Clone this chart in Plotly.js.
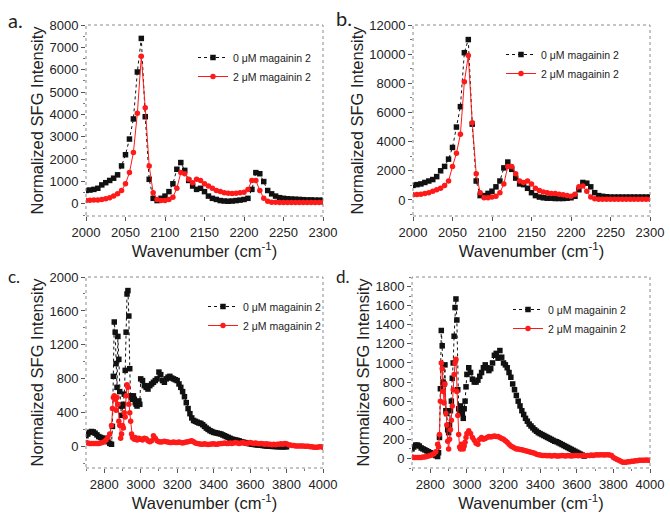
<!DOCTYPE html>
<html><head><meta charset="utf-8">
<script src="https://cdn.plot.ly/plotly-3.0.1.min.js"></script>
<style>html,body{margin:0;padding:0;background:#fff}#chart{width:670px;height:519px}</style>
</head><body><div id="chart"></div><script>
// ---- Data: panels a & b (2000-2300 cm-1) ----
const wnAB = [2000,2005,2010,2015,2020,2025,2030,2035,2040,2045,
  2050,2055,2060,2065,2070,2075,2080,2085,2090,2095,
  2100,2105,2110,2115,2120,2125,2130,2135,2140,2145,
  2150,2155,2160,2165,2170,2175,2180,2185,2190,2195,
  2200,2205,2210,2215,2220,2225,2230,2235,2240,2245,
  2250,2255,2260,2265,2270,2275,2280,2285,2290,2295,2300];
const aZero = [600,620,650,700,850,950,1050,1150,1300,1700,
  2200,2900,3800,5900,7400,3900,1100,250,150,250,
  350,550,900,1550,1850,1500,1050,800,650,700,
  550,350,250,200,150,130,120,130,150,170,
  200,250,650,1400,1350,1000,600,450,350,280,
  250,230,220,210,200,190,180,180,170,170,160];
const aTwo = [150,160,170,180,200,230,280,350,450,600,
  900,1400,2300,4050,6600,4300,1700,500,200,150,
  150,200,300,700,1400,1350,1100,950,1100,1050,
  900,800,700,600,550,500,480,470,480,500,
  520,650,1050,1050,600,250,120,80,70,60,
  60,60,60,60,60,60,60,60,60,60,60];
const bZero = [1000,1050,1100,1200,1300,1400,1600,2000,2300,2800,
  3600,5000,6400,10100,11000,5200,1300,300,300,450,
  600,900,1300,2200,2600,2100,1500,1100,1050,800,
  500,300,200,150,120,120,100,100,100,120,
  150,250,700,1200,1150,900,500,300,250,220,
  200,200,200,200,200,200,200,200,200,200,200];
const bTwo = [350,380,400,450,500,600,700,800,1000,1300,
  2300,3200,4500,8100,9900,5300,1800,500,150,150,
  200,250,500,1100,2300,2300,1800,1300,1200,1300,
  1100,800,650,550,500,450,450,400,350,300,
  250,400,900,950,600,200,80,50,50,50,
  50,50,50,50,50,50,50,50,50,50,50];

// ---- Data: panels c & d (2700-4000 cm-1) ----
const wnCD = [2700,2710,2720,2730,2740,2750,2760,2770,2780,2790,2800,2810,2820,2830,2840,
  2845,2850,2855,2860,2865,2870,2875,2880,2885,2890,2895,2900,2905,2910,2915,2920,2925,2930,2935,2940,2945,2950,2955,2960,2965,2970,2975,2980,2985,2990,2995,
  3000,3010,3020,3030,3040,3050,3060,3070,3080,3090,
  3100,3110,3120,3130,3140,3150,3160,3170,3180,3190,
  3200,3210,3220,3230,3240,3250,3260,3270,3280,3290,
  3300,3310,3320,3330,3340,3350,3360,3370,3380,3390,
  3400,3410,3420,3430,3440,3450,3460,3470,3480,3490,
  3500,3510,3520,3530,3540,3550,3560,3570,3580,3590,
  3600,3610,3620,3630,3640,3650,3660,3670,3680,3690,
  3700,3710,3720,3730,3740,3750,3760,3770,3780,3790,
  3800,3810,3820,3830,3840,3850,3860,3870,3880,3890,
  3900,3910,3920,3930,3940,3950,3960,3970,3980,3990,4000];
const cZero = [130,150,170,180,175,160,140,120,110,100,100,90,60,40,30,
  240,830,1470,1350,980,700,1300,1030,650,480,370,480,500,620,900,1350,1800,1840,1540,920,600,580,560,600,560,520,500,480,520,540,500,
  800,780,720,700,680,720,740,760,780,800,
  880,850,780,760,800,820,830,810,800,790,
  780,740,700,650,590,520,450,390,340,310,
  300,290,280,275,260,240,220,205,190,180,
  170,165,160,155,150,140,130,120,110,100,
  90,85,80,75,70,60,55,50,45,40,
  35,30,28,25,22,20,18,15,12,10,
  8,6,5,4,3,2,1,0,0,0,
  0,null,null,null,null,null,null,null,null,null,
  null,null,null,null,null,null,null,null,null,null,null];
const cTwo = [50,45,40,40,40,40,40,40,45,50,60,80,110,150,250,
  450,580,600,560,430,580,500,300,250,100,150,250,220,400,350,600,730,700,500,400,300,150,110,100,90,110,90,80,90,100,95,
  90,80,100,95,70,60,70,130,100,70,
  60,55,60,65,60,55,50,50,55,50,
  50,55,50,45,50,55,60,65,70,60,
  45,40,35,30,30,35,30,28,30,32,
  35,30,30,35,40,40,45,40,40,45,
  40,45,50,45,40,45,50,45,40,45,
  50,45,40,45,40,35,40,35,30,35,
  30,30,25,30,25,30,30,35,30,40,
  35,25,20,15,15,10,10,10,10,10,
  5,5,5,0,0,-5,-5,-5,0,0,-5];
const dZero = [100,120,140,140,130,110,100,90,80,70,60,50,40,30,20,
  60,220,730,1340,1180,800,780,980,500,470,300,270,350,500,600,840,1000,1280,1580,1670,1450,720,520,480,550,500,470,420,520,600,750,
  880,950,900,830,800,800,820,860,900,950,
  980,950,920,940,1000,1080,1100,1050,1130,1060,
  1000,980,950,900,850,780,720,660,600,550,
  500,460,420,390,360,340,320,300,285,270,
  260,250,240,230,220,210,200,190,180,175,
  165,155,145,135,125,115,105,95,85,75,
  65,55,45,35,25,null,null,null,null,null,
  null,null,null,null,null,null,null,null,null,null,
  null,null,null,null,null,null,null,null,null,null,
  null,null,null,null,null,null,null,null,null,null,null];
const dTwo = [15,10,10,10,10,10,15,15,20,25,30,40,50,70,150,
  120,250,600,1000,940,700,580,780,470,350,180,100,200,300,400,550,720,880,1000,1040,700,450,250,120,100,150,120,100,130,170,220,
  260,290,260,220,190,160,150,200,220,200,
  210,220,230,225,230,235,230,230,220,210,
  200,185,170,150,130,120,110,100,100,95,
  90,85,80,75,70,65,60,55,45,40,
  35,30,30,30,28,30,25,28,30,25,
  25,28,30,28,25,30,28,25,28,30,
  30,28,30,32,30,28,30,32,35,32,
  35,38,35,40,38,35,40,38,35,30,
  10,0,-10,-20,-30,-40,-40,-40,-35,-35,
  -30,-30,-25,-25,-20,-20,-20,-20,-15,-20,-20];

const labelZero = '0 \u03bcM magainin 2';
const labelTwo = '2 \u03bcM magainin 2';
const panelLabels = ['a.','b.','c.','d.'];
const yTitle = 'Normalized SFG Intensity';
const xTitle = 'Wavenumber (cm<sup>-1</sup>)';

const FONT = 'Arial';
const panels = [
  {x: wnAB, zero: aZero, two: aTwo, xa: 'x',  ya: 'y',  lg: 'legend'},
  {x: wnAB, zero: bZero, two: bTwo, xa: 'x2', ya: 'y2', lg: 'legend2'},
  {x: wnCD, zero: cZero, two: cTwo, xa: 'x3', ya: 'y3', lg: 'legend3'},
  {x: wnCD, zero: dZero, two: dTwo, xa: 'x4', ya: 'y4', lg: 'legend4'}
];
const traces = [];
panels.forEach(p => {
  traces.push({x: p.x, y: p.zero, xaxis: p.xa, yaxis: p.ya, legend: p.lg, name: labelZero,
    type: 'scatter', mode: 'lines+markers', connectgaps: false,
    line: {color: '#111', width: 1, dash: 'dot'},
    marker: {symbol: 'square', size: 5.5, color: '#111'}});
  traces.push({x: p.x, y: p.two, xaxis: p.xa, yaxis: p.ya, legend: p.lg, name: labelTwo,
    type: 'scatter', mode: 'lines+markers', connectgaps: false,
    line: {color: '#ff1a1a', width: 1},
    marker: {symbol: 'circle', size: 5.5, color: '#ff1a1a'}});
});

const W = 670, H = 519;
const dx = (l, r) => [l / W, r / W];
const dy = (t, b) => [1 - b / H, 1 - t / H];
const tickFont = {family: FONT, size: 13, color: '#222'};
const titleFont = {family: FONT, size: 16.5, color: '#222'};
function xaxis(domain, range, dtick, anchor) {
  return {domain, range, dtick, anchor, showgrid: false, zeroline: false, showline: false,
    ticks: 'outside', ticklen: 4, tickcolor: '#555', tickwidth: 1, tickfont: tickFont,
    tickformat: 'd',
    minor: {ticks: 'outside', ticklen: 2, tickcolor: '#777', nticks: 2},
    title: {text: xTitle, font: titleFont, standoff: 0}};
}
function yaxis(domain, range, dtick, anchor) {
  return {domain, range, dtick, anchor, showgrid: false, zeroline: false, showline: false,
    ticks: 'outside', ticklen: 4, tickcolor: '#555', tickwidth: 1, tickfont: tickFont,
    tickformat: 'd', exponentformat: 'none',
    minor: {ticks: 'outside', ticklen: 2, tickcolor: '#777', nticks: 2},
    title: {text: yTitle, font: titleFont, standoff: 1}};
}
const legendBase = {bgcolor: 'rgba(0,0,0,0)', borderwidth: 0, font: {family: FONT, size: 10.5, color: '#222'},
  xanchor: 'left', yanchor: 'top', itemwidth: 30, tracegroupgap: 0};

const layout = {
  width: W, height: H, margin: {l: 0, r: 0, t: 0, b: 0},
  paper_bgcolor: '#fff', plot_bgcolor: '#fff', showlegend: true,
  font: {family: FONT, color: '#222'},
  xaxis:  xaxis(dx(86, 323), [2000, 2300], 50, 'y'),
  yaxis:  yaxis(dy(25, 216), [-540, 8000], 1000, 'x'),
  xaxis2: xaxis(dx(413, 650), [2000, 2300], 50, 'y2'),
  yaxis2: yaxis(dy(25, 216), [-1100, 12000], 2000, 'x2'),
  xaxis3: xaxis(dx(86, 323), [2700, 4000], 200, 'y3'),
  yaxis3: yaxis(dy(277, 468), [-250, 2000], 400, 'x3'),
  xaxis4: xaxis(dx(412, 650), [2700, 4000], 200, 'y4'),
  yaxis4: yaxis(dy(277, 468), [-100, 1900], 200, 'x4'),
  legend:  Object.assign({}, legendBase, {x: 193 / W, y: 1 - 43 / H}),
  legend2: Object.assign({}, legendBase, {x: 501 / W, y: 1 - 40 / H}),
  legend3: Object.assign({}, legendBase, {x: 203 / W, y: 1 - 292 / H}),
  legend4: Object.assign({}, legendBase, {x: 508 / W, y: 1 - 295 / H}),
  shapes: ['', '2', '3', '4'].map(s => ({type: 'rect', xref: 'x' + s + ' domain', yref: 'y' + s + ' domain',
    x0: 0, x1: 1, y0: 0, y1: 1, line: {color: '#8a8a8a', width: 1, dash: 'dot'}, layer: 'above'})),
  annotations: [
    {text: panelLabels[0], x: 6 / W, y: 1 - 6 / H, font: {family: 'Lato', size: 20, color: '#222'}},
    {text: panelLabels[1], x: 334 / W, y: 1 - 4 / H, font: {family: 'Lato', size: 20, color: '#222'}},
    {text: panelLabels[2], x: 6 / W, y: 1 - 264 / H, font: {family: 'Lato', size: 17, color: '#222'}},
    {text: panelLabels[3], x: 334 / W, y: 1 - 264 / H, font: {family: 'Lato', size: 17, color: '#222'}}
  ].map(a => Object.assign({xref: 'paper', yref: 'paper', xanchor: 'left', yanchor: 'top', showarrow: false}, a))
};

Plotly.newPlot('chart', traces, layout, {displayModeBar: false, staticPlot: true});
</script></body></html>
